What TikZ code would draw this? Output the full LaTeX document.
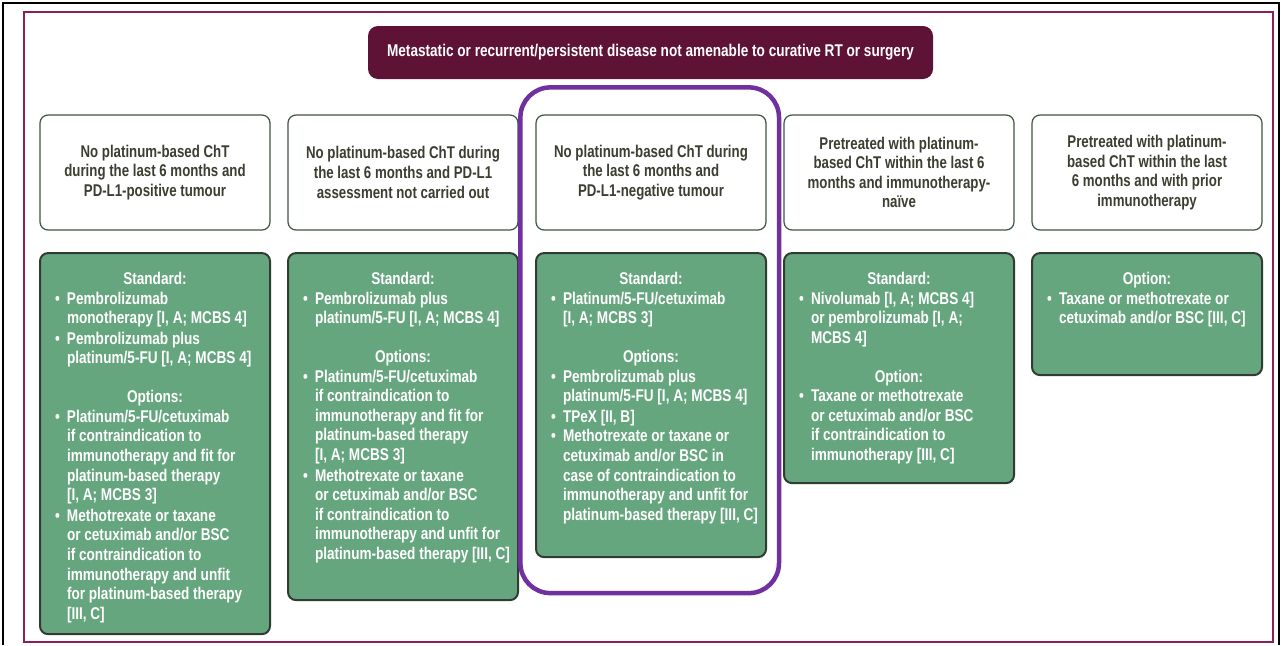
\documentclass[tikz,border=0pt]{standalone}
\usepackage{fontspec}
\setmainfont{Liberation Sans}[FakeStretch=0.8]
\newfontfamily\casefont{Liberation Sans Bold}[FakeStretch=0.78]
\usetikzlibrary{positioning}
\definecolor{esmomaroon}{RGB}{94,18,54}
\definecolor{framemaroon}{RGB}{140,30,90}
\definecolor{esmogreen}{RGB}{102,166,127}
\definecolor{recedge}{RGB}{48,60,50}
\definecolor{caseedge}{RGB}{62,85,64}
\definecolor{casetext}{RGB}{60,62,48}
\definecolor{hlpurple}{RGB}{112,48,160}

\newcommand{\hdr}[1]{\par{\centering #1\par}}
\newcommand{\itm}[1]{\par\noindent\hspace*{3pt}\makebox[12pt][l]{\textbullet}%
  \begin{tabular}[t]{@{}l@{}}#1\end{tabular}\par}
\newcommand{\gap}{\vspace{19.6pt}}
\newcommand{\recbody}[2]{\parbox[c][#1][t]{206pt}{\vspace*{19pt}#2}}

\begin{document}
\begin{tikzpicture}[
      x=1pt,y=1pt,
      node distance=21.5pt and 16.8pt,
      casebox/.style={draw=caseedge,line width=1.2pt,rounded corners=8pt,fill=white,
                  minimum width=230pt,minimum height=115pt,align=center,text=casetext,
                  font=\casefont\fontsize{17}{19.6}\selectfont},
      recbox/.style={draw=recedge,line width=2pt,rounded corners=8pt,fill=esmogreen,
                  inner sep=0pt,minimum width=230pt,text=white,
                  font=\bfseries\fontsize{17}{19.6}\selectfont},
      titlebox/.style={fill=esmomaroon,rounded corners=10pt,minimum width=565pt,
                  minimum height=53pt,text=white,font=\bfseries\fontsize{17}{19.6}\selectfont}]
    \useasboundingbox (0,0) rectangle (1281,-645);
    % frames
    \draw[line width=2pt] (3,-645) -- (3,-3) -- (1279,-3) -- (1279,-645);
    \draw[framemaroon,line width=2pt] (24,-12) rectangle (1273,-642);
    \node[titlebox] (disease) at (650.5,-52.5)
      {Metastatic or recurrent/persistent disease not amenable to curative RT or surgery};
    % patient groups
    \node[casebox] (pdpos) at (155,-172.5)
      {No platinum-based ChT\\during the last 6 months and\\PD-L1-positive tumour};
    \node[casebox,right=of pdpos] (pdunk)
      {No platinum-based ChT during\\the last 6 months and PD-L1\\assessment not carried out};
    \node[casebox,right=of pdunk] (pdneg)
      {No platinum-based ChT during\\the last 6 months and\\PD-L1-negative tumour};
    \node[casebox,right=of pdneg] (ionaive)
      {Pretreated with platinum-\\based ChT within the last 6\\months and immunotherapy-\\naïve};
    \node[casebox,right=of ionaive] (ioprior)
      {Pretreated with platinum-\\based ChT within the last\\6 months and with prior\\immunotherapy};
    % treatments
    \node[recbox,below=of pdpos] (rxpos) {\recbody{381pt}{%
      \hdr{Standard:}
      \itm{Pembrolizumab\\monotherapy [I, A; MCBS 4]}
      \itm{Pembrolizumab plus\\platinum/5-FU [I, A; MCBS 4]}
      \gap
      \hdr{Options:}
      \itm{Platinum/5-FU/cetuximab\\if contraindication to\\immunotherapy and fit for\\platinum-based therapy\\{}[I, A; MCBS 3]}
      \itm{Methotrexate or taxane\\or cetuximab and/or BSC\\if contraindication to\\immunotherapy and unfit\\for platinum-based therapy\\{}[III, C]}}};
    \node[recbox,below=of pdunk] (rxunk) {\recbody{347pt}{%
      \hdr{Standard:}
      \itm{Pembrolizumab plus\\platinum/5-FU [I, A; MCBS 4]}
      \gap
      \hdr{Options:}
      \itm{Platinum/5-FU/cetuximab\\if contraindication to\\immunotherapy and fit for\\platinum-based therapy\\{}[I, A; MCBS 3]}
      \itm{Methotrexate or taxane\\or cetuximab and/or BSC\\if contraindication to\\immunotherapy and unfit for\\platinum-based therapy [III, C]}}};
    \node[recbox,below=of pdneg] (rxneg) {\recbody{304pt}{%
      \hdr{Standard:}
      \itm{Platinum/5-FU/cetuximab\\{}[I, A; MCBS 3]}
      \gap
      \hdr{Options:}
      \itm{Pembrolizumab plus\\platinum/5-FU [I, A; MCBS 4]}
      \itm{TPeX [II, B]}
      \itm{Methotrexate or taxane or\\cetuximab and/or BSC in\\case of contraindication to\\immunotherapy and unfit for\\platinum-based therapy [III, C]}}};
    \node[recbox,below=of ionaive] (rxnaive) {\recbody{230pt}{%
      \hdr{Standard:}
      \itm{Nivolumab [I, A; MCBS 4]\\or pembrolizumab [I, A;\\MCBS 4]}
      \gap
      \hdr{Option:}
      \itm{Taxane or methotrexate\\or cetuximab and/or BSC\\if contraindication to\\immunotherapy [III, C]}}};
    \node[recbox,below=of ioprior] (rxprior) {\recbody{122pt}{%
      \hdr{Option:}
      \itm{Taxane or methotrexate or\\cetuximab and/or BSC [III, C]}}};
    % highlighted column
    \draw[hlpurple,line width=4.5pt,rounded corners=30pt]
      ([xshift=-15pt,yshift=27pt]pdneg.north west) rectangle ([xshift=12pt,yshift=-35pt]rxneg.south east);
  \end{tikzpicture}
\end{document}
